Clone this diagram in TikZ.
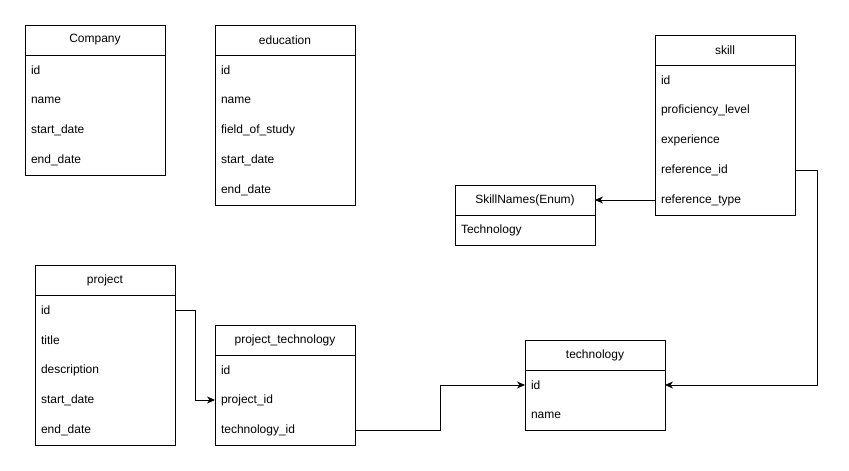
\documentclass[tikz,border=0pt]{standalone}
\usepackage{fontspec}
\setmainfont{Liberation Sans}
\usetikzlibrary{arrows.meta, positioning}

\begin{document}
\begin{tikzpicture}[x=1pt, y=-1pt, >={Stealth[length=8pt, width=7pt, inset=2.5pt]},
	line width=0.9pt, line join=miter, font=\fontsize{12}{14}\selectfont,
	tblhead/.style={draw, minimum width=140pt, minimum height=30pt, inner sep=0pt, outer sep=0pt, anchor=north west},
	tblrow/.style={minimum height=30pt, text width=128pt, inner xsep=6pt, inner ysep=0pt, outer sep=0pt, align=left}]
	
	\useasboundingbox[fill=white] (0,0) rectangle (849,471);
	
	%========================
	% Company
	%========================
	\node[tblhead] (co-head) at (25,25) {Company};
	\node[tblrow, below=0pt of co-head] (co-id) {id};
	\node[tblrow, below=0pt of co-id] (co-name) {name};
	\node[tblrow, below=0pt of co-name] (co-start) {start\_date};
	\node[tblrow, below=0pt of co-start] (co-end) {end\_date};
	\draw (co-head.south west) rectangle (co-end.south east);
	
	%========================
	% education
	%========================
	\node[tblhead] (ed-head) at (215,25) {education};
	\node[tblrow, below=0pt of ed-head] (ed-id) {id};
	\node[tblrow, below=0pt of ed-id] (ed-name) {name};
	\node[tblrow, below=0pt of ed-name] (ed-field) {field\_of\_study};
	\node[tblrow, below=0pt of ed-field] (ed-start) {start\_date};
	\node[tblrow, below=0pt of ed-start] (ed-end) {end\_date};
	\draw (ed-head.south west) rectangle (ed-end.south east);
	
	%========================
	% skill
	%========================
	\node[tblhead] (sk-head) at (655,35) {skill};
	\node[tblrow, below=0pt of sk-head] (sk-id) {id};
	\node[tblrow, below=0pt of sk-id] (sk-level) {proficiency\_level};
	\node[tblrow, below=0pt of sk-level] (sk-exp) {experience};
	\node[tblrow, below=0pt of sk-exp] (sk-refid) {reference\_id};
	\node[tblrow, below=0pt of sk-refid] (sk-reftype) {reference\_type};
	\draw (sk-head.south west) rectangle (sk-reftype.south east);
	
	%========================
	% SkillNames (enum)
	%========================
	\node[tblhead] (sn-head) at (455,185) {SkillNames(Enum)};
	\node[tblrow, below=0pt of sn-head] (sn-tech) {Technology};
	\draw (sn-head.south west) rectangle (sn-tech.south east);
	
	%========================
	% project
	%========================
	\node[tblhead] (pr-head) at (35,265) {project};
	\node[tblrow, below=0pt of pr-head] (pr-id) {id};
	\node[tblrow, below=0pt of pr-id] (pr-title) {title};
	\node[tblrow, below=0pt of pr-title] (pr-desc) {description};
	\node[tblrow, below=0pt of pr-desc] (pr-start) {start\_date};
	\node[tblrow, below=0pt of pr-start] (pr-end) {end\_date};
	\draw (pr-head.south west) rectangle (pr-end.south east);
	
	%========================
	% project_technology
	%========================
	\node[tblhead] (pt-head) at (215,325) {project\_technology};
	\node[tblrow, below=0pt of pt-head] (pt-id) {id};
	\node[tblrow, below=0pt of pt-id] (pt-projid) {project\_id};
	\node[tblrow, below=0pt of pt-projid] (pt-techid) {technology\_id};
	\draw (pt-head.south west) rectangle (pt-techid.south east);
	
	%========================
	% technology
	%========================
	\node[tblhead] (te-head) at (525,340) {technology};
	\node[tblrow, below=0pt of te-head] (te-id) {id};
	\node[tblrow, below=0pt of te-id] (te-name) {name};
	\draw (te-head.south west) rectangle (te-name.south east);
	
	% relations
	\draw[->] (pr-id.east) -- ++(20,0) |- (pt-projid.west);
	\draw[->] (pt-techid.east) -- ++(85,0) |- (te-id.west);
	\draw[->] (sk-refid.east) -- ++(22,0) |- (te-id.east);
	\draw[->] (sk-reftype.west) -- (sn-head.east);
	
\end{tikzpicture}
\end{document}
